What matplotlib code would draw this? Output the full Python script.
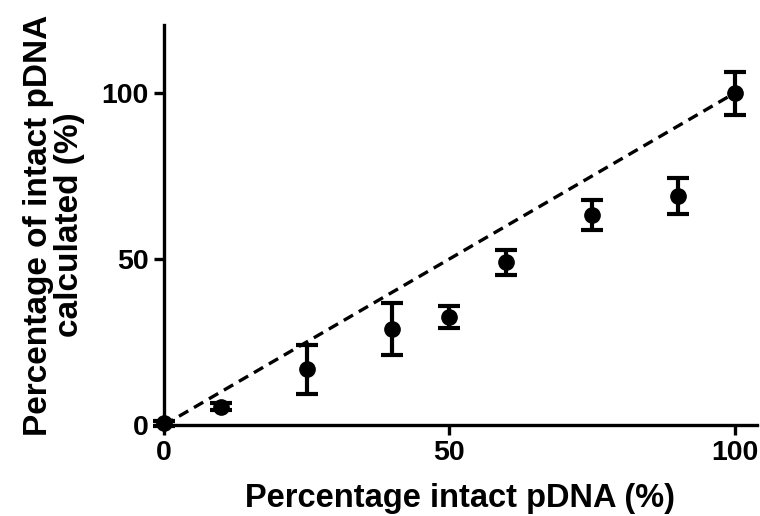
import matplotlib

matplotlib.use("Agg")
import matplotlib.pyplot as plt

# data
intact = [0, 10, 25, 40, 50, 60, 75, 90, 100]
calculated = [0.5, 5.5, 16.8, 29.0, 32.5, 49.0, 63.3, 69.0, 100.0]
err = [0.8, 1.0, 7.4, 7.8, 3.4, 3.8, 4.6, 5.4, 6.5]
ident_x = [0, 100]
ident_y = [0, 100]

plt.rcParams["font.family"] = ["Liberation Sans", "DejaVu Sans"]
plt.rcParams["font.weight"] = "bold"

fig = plt.figure(figsize=(7.6, 5.16), dpi=100)
ax = fig.add_axes([0.2158, 0.1764, 0.780, 0.775])

# line of identity
ax.plot(ident_x, ident_y, color="black", linestyle=(0, (3.2, 2.0)), linewidth=2.4)
ax.errorbar(intact, calculated, yerr=err, fmt="o", color="black", markersize=11,
            elinewidth=3, capsize=8, capthick=3, clip_on=False, zorder=3)

ax.set_xlim(0, 103.9)
ax.set_ylim(0, 120.5)
ax.set_xticks([0, 50, 100])
ax.set_yticks([0, 50, 100])
ax.spines["top"].set_visible(False)
ax.spines["right"].set_visible(False)
for s in ("left", "bottom"):
    ax.spines[s].set_linewidth(2.4)
ax.tick_params(width=2.4, length=7, labelsize=20.5, pad=4)
for lbl in ax.get_xticklabels() + ax.get_yticklabels():
    lbl.set_fontweight("bold")

ax.set_xlabel("Percentage intact pDNA (%)", fontsize=23.5, fontweight="bold", labelpad=12)
ax.set_ylabel("Percentage of intact pDNA\ncalculated (%)", fontsize=24,
              fontweight="bold", labelpad=12, linespacing=1.0)

fig.savefig("out.png", dpi=100)
